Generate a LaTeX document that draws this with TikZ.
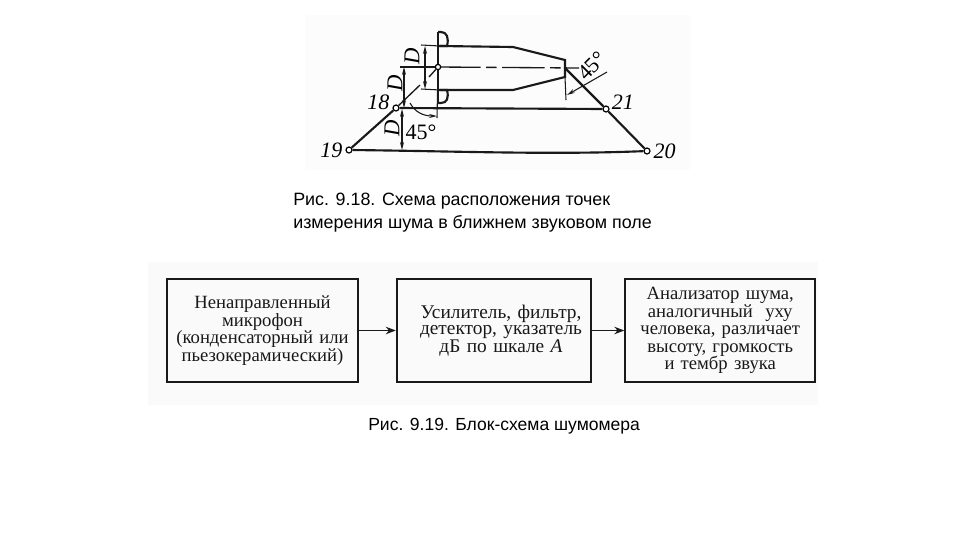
\documentclass[tikz,border=0pt]{standalone}
\usepackage{fontspec}
\setmainfont{Liberation Serif}
\newfontfamily\capfont{Liberation Sans}
\usetikzlibrary{positioning, arrows.meta}

\tikzset{
    block/.style={draw=black!90,line width=1.4pt,minimum height=77pt,align=center,font=\fontsize{14}{13.2}\selectfont,text=black!90,inner sep=0pt},
    pnt/.style={circle,draw,fill=white,line width=.9pt,minimum size=4.5pt,inner sep=0pt},
    numlab/.style={font=\fontsize{16.5}{17}\selectfont\itshape,inner sep=1pt},
    dimlab/.style={font=\fontsize{17}{18}\selectfont\itshape,rotate=90,inner sep=0pt},
    anglab/.style={font=\fontsize{16.5}{17}\selectfont,inner sep=0pt},
    caption/.style={font=\capfont\fontsize{13.4}{17.2}\selectfont,align=left,inner sep=0pt,anchor=north west},
    body/.style={line width=1.6pt,black!90},
    thin line/.style={line width=.8pt,black!90},
    dim/.style={thin line,{Stealth[length=6pt,width=3pt]}-{Stealth[length=6pt,width=3pt]}},
    tip/.style={thin line,-{Stealth[length=6pt,width=3pt]}}
}

\begin{document}
\begin{tikzpicture}[x=.75pt,y=-.75pt,>=Stealth]
    \useasboundingbox (0,0) rectangle (960,540);
    \fill[black!2] (148,262) rectangle (818,405);
    \fill[black!1] (305,15) rectangle (690,170);

    % microphone
    \coordinate (c0) at (438,67);
    \coordinate (t0) at (440,46);
    \coordinate (t1) at (513,47);
    \coordinate (t2) at (565,60);
    \coordinate (b0) at (440,90);
    \coordinate (b1) at (513,90);
    \coordinate (b2) at (565,77);
    \coordinate (nose) at (565,68);
    \coordinate (axis) at (579,68);
    \draw[body] (t0) -- (t1) -- (t2) -- (b2) -- (b1) -- (b0);
    \draw[body] (438,32) -- (438,103);
    \draw[body] (438,46) -- (447,46) .. controls (449,38) and (447,32) .. (441,32) -- (438,32);
    \draw[body] (438,90) -- (447,90) .. controls (449,98) and (447,103) .. (441,103) -- (438,103);
    \draw[thin line,line width=1pt,dash pattern=on 32pt off 4pt on 8pt off 4pt] (c0) -- (axis);

    % measuring points
    \node[pnt] (p18) at (396,108) {};
    \node[pnt] (p19) at (349,150) {};
    \node[pnt] (p20) at (647,151) {};
    \node[pnt] (p21) at (606,109) {};
    \node[pnt,minimum size=4pt] (p0) at (c0) {};
    \node[numlab,left=1pt of p18,yshift=4pt] (n18) {18};
    \node[numlab,left=1pt of p19] (n19) {19};
    \node[numlab,right=1pt of p20] (n20) {20};
    \node[numlab,right=.5pt of p21,yshift=5pt] (n21) {21};

    \draw[body] (p18) -- (p19);
    \draw[body] (nose) -- (p21);
    \draw[body] (p21) -- (p20);
    \draw[body] (p18) -- (p21);
    \draw[body] (p19) .. controls (450,151) and (550,155) .. (p20);
    \draw[body,line width=1pt] (p0) -- (429,77);
    \draw[body,line width=1pt] (420,85) -- (p18);

    % dimensions
    \coordinate (d1a) at (425,46);
    \coordinate (d1b) at (425,89);
    \coordinate (d2a) at (404,67);
    \coordinate (d2b) at (404,108);
    \coordinate (d3a) at (402,109);
    \coordinate (d3b) at (402,150);
    \draw[thin line] (421,45) -- (t0);
    \draw[thin line] (421,89) -- (b0);
    \draw[thin line] (400,67) -- (p0);
    \draw[dim] (d1a) -- (d1b);
    \draw[dim] (d2a) -- (d2b);
    \draw[dim] (d3a) -- (d3b);
    \node[dimlab] (dtop) at (412,56) {D};
    \node[dimlab] (dmid) at (395,83) {D};
    \node[dimlab] (dlow) at (392,128) {D};
    \draw[thin line] (p0) -- (437,118);
    \draw[tip] (410,103) .. controls (415,112) and (423,116) .. (437,116);
    \node[anglab] (a1) at (421,132) {45°};
    \draw[thin line] (b2) -- (566,100);
    \draw[tip] (607,72) -- (567,95);
    \node[anglab,rotate=45] (a2) at (592,66) {45°};

    % block diagram
    \node[block,text width=143pt] (mic) at (262.5,330.5) {Ненаправленный\\микрофон\\(конденсаторный или\\пьезокерамический)};
    \node[block,text width=146pt,right=27.75pt of mic,font=\fontsize{14.5}{12.2}\selectfont] (amp) {\hspace*{10.5pt}Усилитель, фильтр,\\\hspace*{10.5pt}детектор, указатель\\\hspace*{10.5pt}дБ по шкале \textit{А}\\[17pt]};
    \node[block,text width=142.5pt,right=24pt of amp] (ana) {Анализатор шума,\\аналогичный\ \ уху\\человека, различает\\высоту, громкость\\и тембр звука};
    \draw[thin line,line width=1pt,->] (mic) -- (amp);
    \draw[thin line,line width=1pt,->] (amp) -- (ana);

    % captions
    \node[caption] (cap18) at (293,192.5) {Рис. 9.18. Схема расположения точек\\измерения шума в ближнем звуковом поле};
    \node[caption,font=\capfont\fontsize{13.15}{17.2}\selectfont] (cap19) at (368,418) {Рис. 9.19. Блок-схема шумомера};
\end{tikzpicture}
\end{document}
